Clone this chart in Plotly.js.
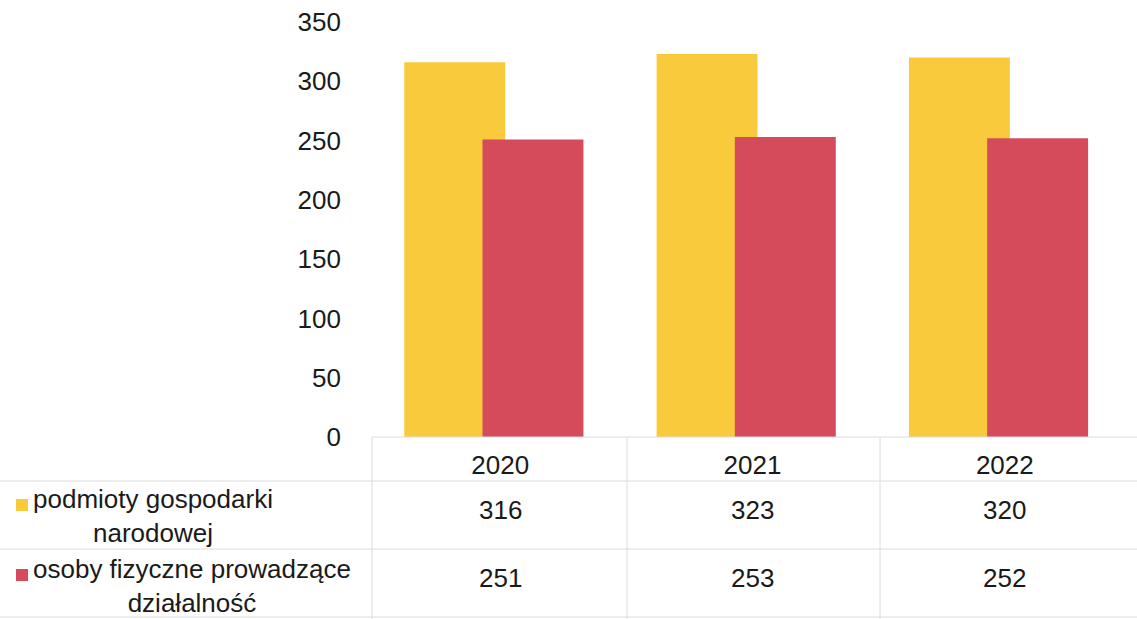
<!DOCTYPE html>
<html>
<head>
<meta charset="utf-8">
<script src="https://cdn.plot.ly/plotly-3.0.1.min.js"></script>
<style>html,body{margin:0;padding:0;background:#fff;}#chart{width:1137px;height:619px;}</style>
</head>
<body>
<div id="chart"></div>
<script>
const years = ['2020', '2021', '2022'];
const seriesNames = ['podmioty gospodarki<br>narodowej', 'osoby fizyczne prowadzące<br>działalność'];
const podmioty = [316, 323, 320];
const osoby = [251, 253, 252];
const yTicks = [0, 50, 100, 150, 200, 250, 300, 350];

const W = 1137, H = 619;
const mL = 374, mR = 6, mT = 22, mB = 182;
const pw = W - mL - mR, ph = H - mT - mB;
const px = p => (p - mL) / pw;          // pixel x -> paper
const py = p => (H - mB - p) / ph;      // pixel y -> paper

const colors = ['#f8ca3c', '#d64b5c'];
const fontFam = 'Liberation Sans, Arial, sans-serif';
const txt = '#1a1a1a';
const fs = 26;

const traces = [
  {type: 'bar', x: years, y: podmioty, name: seriesNames[0], marker: {color: colors[0]}, width: 0.4, offset: -0.38, hoverinfo: 'x+y'},
  {type: 'bar', x: years, y: osoby, name: seriesNames[1], marker: {color: colors[1]}, width: 0.4, offset: -0.07, hoverinfo: 'x+y'}
];

const gridColor = '#dcdcdc';
const shapes = [];
const line = (x0, y0, x1, y1) => shapes.push({type: 'line', xref: 'paper', yref: 'paper',
  x0: px(x0), y0: py(y0), x1: px(x1), y1: py(y1), line: {color: gridColor, width: 1}});
line(372, 437, 1137, 437);
line(0, 481, 1137, 481);
line(0, 549, 1137, 549);
line(0, 617, 1137, 617);
line(372, 437, 372, 619);
line(627, 437, 627, 619);
line(880, 437, 880, 619);

// legend markers in table
const markY = [505, 575];
const rowY = [510, 578];
const labelY = [516, 586];
[0, 1].forEach(i => {
  shapes.push({type: 'rect', xref: 'paper', yref: 'paper', x0: px(16), x1: px(28),
    y0: py(markY[i] + 6), y1: py(markY[i] - 6), fillcolor: colors[i], line: {width: 0}});
});

const annotations = [];
[podmioty, osoby].forEach((arr, i) => {
  arr.forEach((v, j) => {
    annotations.push({x: j, xref: 'x', y: py(rowY[i]), yref: 'paper', text: String(v),
      showarrow: false, xanchor: 'center', yanchor: 'middle', font: {size: fs, color: txt, family: fontFam}});
  });
  annotations.push({x: px(31), xref: 'paper', y: py(labelY[i]), yref: 'paper', text: seriesNames[i],
    showarrow: false, xanchor: 'left', yanchor: 'middle', align: 'center',
    font: {size: fs, color: txt, family: fontFam}});
});

const layout = {
  width: W, height: H,
  margin: {l: mL, r: mR, t: mT, b: mB, pad: 0},
  paper_bgcolor: '#ffffff', plot_bgcolor: '#ffffff',
  barmode: 'overlay',
  showlegend: false,
  font: {family: fontFam, color: txt, size: fs},
  xaxis: {type: 'category', range: [-0.5, 2.5], showgrid: false, zeroline: false, showline: false,
    ticks: '', ticklabelstandoff: 10, tickfont: {size: fs, color: txt}, fixedrange: true},
  yaxis: {range: [0, 350], tickvals: yTicks, showgrid: false, zeroline: false, showline: false,
    ticks: '', ticklabelstandoff: 32, tickfont: {size: fs, color: txt}, fixedrange: true},
  shapes: shapes,
  annotations: annotations
};

Plotly.newPlot('chart', traces, layout, {displayModeBar: false, staticPlot: true});
</script>
</body>
</html>
